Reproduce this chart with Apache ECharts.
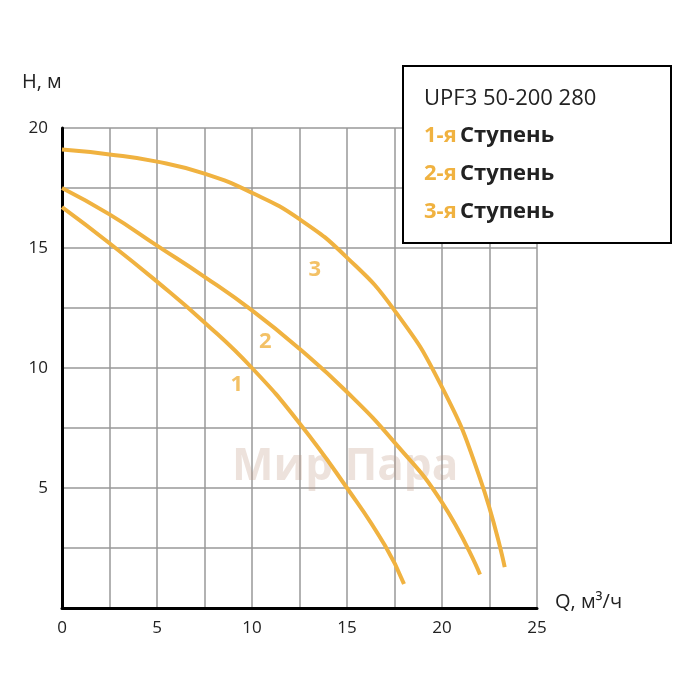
<!DOCTYPE html>
<html lang="ru">
<head>
<meta charset="UTF-8">
<title>UPF3 50-200 280</title>
<style>
  html, body { margin: 0; padding: 0; background: #fff; }
  #chart { width: 700px; height: 700px; }
</style>
</head>
<body>
<div id="chart"></div>
<script src="https://cdn.jsdelivr.net/npm/echarts@6/dist/echarts.min.js"></script>
<script>
  // кривые напора, [Q, H]
  const stage1 = [[0, 16.7], [2.5, 15.2], [5, 13.6], [7.5, 11.9], [10, 10.0], [12.5, 7.7], [15, 5.0], [17, 2.6], [18, 1.0]]
  const stage2 = [[0, 17.5], [2.5, 16.4], [5, 15.1], [7.5, 13.8], [10, 12.4], [12.5, 10.8], [15, 9.0], [17.5, 6.9], [20, 4.4], [22, 1.4]]
  const stage3 = [[0, 19.1], [2.5, 18.9], [5, 18.6], [7.5, 18.1], [10, 17.3], [12.5, 16.2], [15, 14.6], [17.5, 12.4], [20, 9.2], [22, 5.4], [23.3, 1.7]]
  const curveLabels = [
    { num: '1', at: [9.2, 9.3] },
    { num: '2', at: [10.7, 11.1] },
    { num: '3', at: [13.3, 14.1] }
  ]

  const orange = '#f0b240'
  const chart = echarts.init(document.getElementById('chart'))

  const line = (name, data) => ({
    name, type: 'line', data, smooth: 0.5, showSymbol: false,
    lineStyle: { color: orange, width: 4 }, z: 3
  })

  chart.setOption({
    animation: false,
    grid: { left: 62, right: 163, top: 128, bottom: 92 },
    xAxis: {
      type: 'value', min: 0, max: 25, interval: 2.5,
      axisLine: { lineStyle: { color: '#000', width: 3 } },
      axisTick: { show: false },
      axisLabel: {
        fontSize: 17, color: '#222', fontFamily: 'Open Sans', margin: 12,
        formatter: v => (v % 5 === 0 ? v : '')
      },
      splitLine: { lineStyle: { color: '#999', width: 1.5 } }
    },
    yAxis: {
      type: 'value', min: 0, max: 20, interval: 2.5,
      axisLine: { show: true, lineStyle: { color: '#000', width: 3 } },
      axisTick: { show: false },
      axisLabel: {
        fontSize: 17, color: '#222', fontFamily: 'Open Sans', margin: 14,
        formatter: v => (v % 5 === 0 && v > 0 ? v : '')
      },
      splitLine: { lineStyle: { color: '#999', width: 1.5 } }
    },
    graphic: [
      { type: 'text', left: 22, top: 72, style: { text: 'H, м', fontSize: 20, fill: '#222', fontFamily: 'Open Sans' } },
      { type: 'text', left: 555, top: 592, style: { text: 'Q, м³/ч', fontSize: 20, fill: '#222', fontFamily: 'Open Sans' } },
      { type: 'text', left: 232, top: 445, z: 1, style: { text: 'Мир Пара', fontSize: 44, fontWeight: 'bold', fill: 'rgba(190,150,130,0.28)', fontFamily: 'Open Sans' } },
      { type: 'rect', left: 402, top: 65, z: 10, shape: { width: 268, height: 177 }, style: { fill: '#fff', stroke: '#000', lineWidth: 2 } },
      { type: 'text', left: 424, top: 88, z: 11, style: { text: 'UPF3 50-200 280', fontSize: 22, fill: '#222', fontFamily: 'Open Sans' } },
      ...['1', '2', '3'].map((n, i) => ({
        type: 'text', left: 424, top: 125 + i * 38, z: 11,
        style: {
          text: '{o|' + n + '-я} {b|Ступень}',
          rich: {
            o: { fontSize: 22, fontWeight: 'bold', fill: orange, fontFamily: 'Open Sans' },
            b: { fontSize: 22, fontWeight: 'bold', fill: '#222', fontFamily: 'Open Sans' }
          }
        }
      }))
    ],
    series: [
      line('1', stage1),
      line('2', stage2),
      line('3', stage3),
      {
        type: 'scatter', symbolSize: 0, z: 4,
        data: curveLabels.map(c => ({ value: c.at, name: c.num })),
        label: { show: true, formatter: p => p.name, color: orange, fontSize: 22, fontWeight: 'bold', fontFamily: 'Open Sans' }
      }
    ]
  })
</script>
</body>
</html>
